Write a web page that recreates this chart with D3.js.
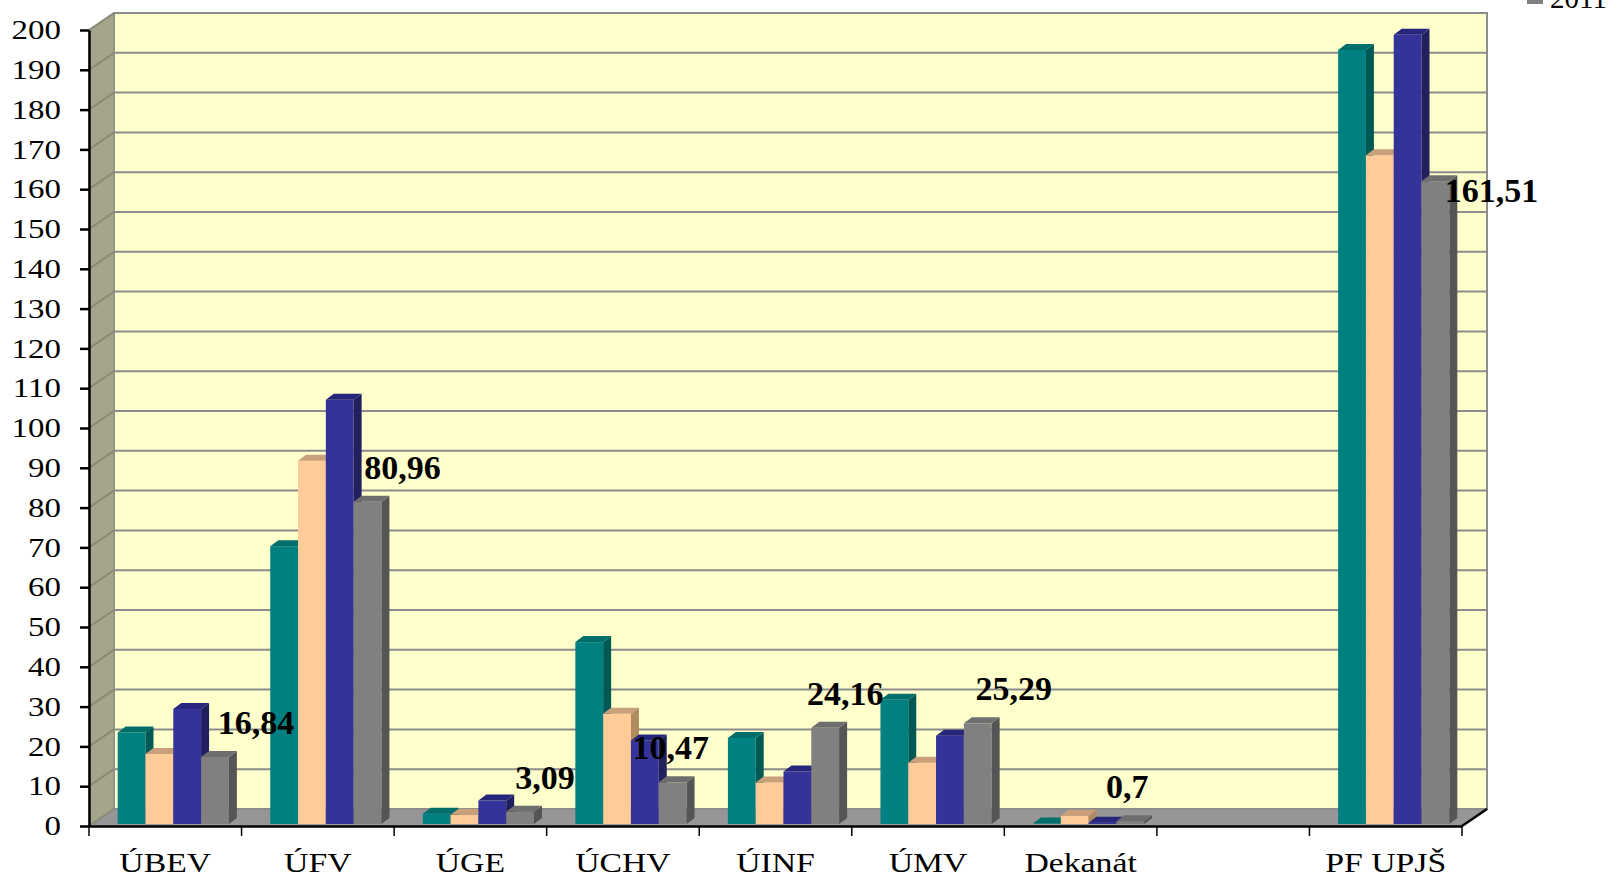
<!DOCTYPE html>
<html lang="sk">
    <head>
        <meta charset="utf-8">
        <title>PF UPJŠ - pracoviská</title>
        <script type="text/javascript" src="https://cdn.jsdelivr.net/npm/d3@7"></script>
        <style type="text/css">
            body {
                margin: 0;
                background: #ffffff;
            }
            svg text {
                font-family: "Times New Roman", "Liberation Serif", serif;
                fill: #000000;
            }
            .axis path,
            .axis line {
                stroke: #000000;
                stroke-width: 2.5;
            }
            .axis text {
                font-size: 27px;
            }
            .value-label {
                font-size: 34px;
                font-weight: bold;
            }
            .legend text {
                font-size: 29px;
            }
        </style>
    </head>

    <body>
        <script type="text/javascript">
            // data
            var categories = ["ÚBEV", "ÚFV", "ÚGE", "ÚCHV", "ÚINF", "ÚMV", "Dekanát", "", "PF UPJŠ"];
            var seriesNames = ["2008", "2009", "2010", "2011"];
            var s2008 = [23.0, 69.8, 2.6, 45.7, 21.6, 31.2, 0.1, null, 194.5];
            var s2009 = [17.6, 91.3, 2.3, 27.7, 10.4, 15.4, 2.1, null, 168.0];
            var s2010 = [28.9, 106.6, 5.9, 21.0, 13.2, 22.2, 0.3, null, 198.3];
            var s2011 = [16.84, 80.96, 3.09, 10.47, 24.16, 25.29, 0.7, null, 161.51];
            var yTicks = d3.range(0, 201, 10);

            var seriesValues = [s2008, s2009, s2010, s2011];

            // layout (not data): where Excel left the 2011 labels
            var labelDx = [41, 35, 25, -2, 20, 36, -3, 0, 56];
            var labelDy = [-23, -23, -23, -23, -23, -23, -23, 0, 21];

            var w = 1619;
            var h = 879;
            var plotLeft = 89, plotRight = 1462, plotBottom = 826, plotTop = 30;
            var depthX = 25, depthY = -17;      // wall depth
            var frontDx = 8, frontDy = -2;      // bars sit a bit behind the front edge
            var barDx = 8, barDy = -6;          // bar depth
            var groupW = 111.2;                 // 4 bars side by side

            var fronts = ["#008080", "#ffcc99", "#333399", "#808080"];
            var tops = ["#006e6b", "#c9a079", "#26267c", "#6e6e6e"];
            var sides = ["#005954", "#b08a60", "#20205f", "#555555"];

            // scales
            var xScale = d3.scaleBand()
                            .domain(categories)
                            .range([plotLeft, plotRight]);

            var xSeries = d3.scaleBand()
                            .domain(seriesNames)
                            .range([0, groupW]);

            var yScale = d3.scaleLinear()
                            .domain([0, 200])
                            .range([plotBottom, plotTop]);

            var svg = d3.select("body")
                            .append("svg")
                            .attr("width", w)
                            .attr("height", h);

            // back wall
            svg.append("rect")
                .attr("x", plotLeft + depthX)
                .attr("y", yScale(200) + depthY)
                .attr("width", plotRight - plotLeft)
                .attr("height", yScale(0) - yScale(200))
                .attr("fill", "#ffffcc")
                .attr("stroke", "#8c8c8c")
                .attr("stroke-width", 2);

            // left side wall
            svg.append("polygon")
                .attr("points", [
                    [plotLeft, yScale(200)],
                    [plotLeft + depthX, yScale(200) + depthY],
                    [plotLeft + depthX, yScale(0) + depthY],
                    [plotLeft, yScale(0)]
                ].join(" "))
                .attr("fill", "#a4a58a")
                .attr("stroke", "#8c8c8c")
                .attr("stroke-width", 1);

            // floor
            svg.append("polygon")
                .attr("points", [
                    [plotLeft, yScale(0)],
                    [plotLeft + depthX, yScale(0) + depthY],
                    [plotRight + depthX, yScale(0) + depthY],
                    [plotRight, yScale(0)]
                ].join(" "))
                .attr("fill", "#969696");

            // gridlines on back wall and left wall
            var grid = svg.append("g").attr("class", "grid");
            grid.selectAll("line.back")
                .data(yTicks)
                .enter()
                .append("line")
                .attr("class", "back")
                .attr("x1", plotLeft + depthX)
                .attr("x2", plotRight + depthX)
                .attr("y1", function(d){ return yScale(d) + depthY; })
                .attr("y2", function(d){ return yScale(d) + depthY; })
                .attr("stroke", "#8c8c8c")
                .attr("stroke-width", 2);
            grid.selectAll("line.side")
                .data(yTicks)
                .enter()
                .append("line")
                .attr("class", "side")
                .attr("x1", plotLeft)
                .attr("x2", plotLeft + depthX)
                .attr("y1", function(d){ return yScale(d); })
                .attr("y2", function(d){ return yScale(d) + depthY; })
                .attr("stroke", "#8a8a78")
                .attr("stroke-width", 2);

            // bars: flatten into one list, drawn left to right
            var bars = [];
            categories.forEach(function(c, i){
                seriesNames.forEach(function(s, j){
                    var v = seriesValues[j][i];
                    if (v !== null) bars.push({cat: c, series: s, j: j, value: v});
                });
            });

            var barG = svg.selectAll("g.bar")
                .data(bars)
                .enter()
                .append("g")
                .attr("class", "bar");

            function bx(d){ return xScale(d.cat) + (xScale.bandwidth() - groupW) / 2 + xSeries(d.series) + frontDx; }
            function by(d){ return yScale(d.value) + frontDy; }
            var baseY = yScale(0) + frontDy;
            var bw = xSeries.bandwidth();

            barG.append("rect")
                .attr("x", bx)
                .attr("y", by)
                .attr("width", bw)
                .attr("height", function(d){ return baseY - by(d); })
                .attr("fill", function(d){ return fronts[d.j]; });

            barG.append("polygon")
                .attr("points", function(d){
                    var x = bx(d) + bw, y = by(d);
                    return [[x, y], [x + barDx, y + barDy], [x + barDx, baseY + barDy], [x, baseY]].join(" ");
                })
                .attr("fill", function(d){ return sides[d.j]; });

            barG.append("polygon")
                .attr("points", function(d){
                    var x = bx(d), y = by(d);
                    return [[x, y], [x + barDx, y + barDy], [x + bw + barDx, y + barDy], [x + bw, y]].join(" ");
                })
                .attr("fill", function(d){ return tops[d.j]; });

            // Y axis
            var yAxis = d3.axisLeft(yScale)
                            .tickValues(yTicks)
                            .tickSize(9)
                            .tickSizeOuter(0)
                            .tickPadding(19);
            svg.append("g")
                .attr("class", "y axis")
                .attr("transform", "translate(" + plotLeft + ",0)")
                .call(yAxis)
                .selectAll("text")
                .attr("font-size", 26)
                .attr("transform", "scale(1.22,1)")
                .attr("x", -28 / 1.22);

            // X axis: labels in band centres, ticks on band edges
            var xAxis = d3.axisBottom(xScale)
                            .tickSize(0)
                            .tickSizeOuter(0)
                            .tickPadding(27);
            var xg = svg.append("g")
                .attr("class", "x axis")
                .attr("transform", "translate(0," + plotBottom + ")")
                .call(xAxis);
            xg.selectAll("text")
                .attr("transform", "scale(1.25,1)");
            xg.selectAll("line.edge")
                .data(categories.map(function(c){ return xScale(c); }).concat([plotRight]))
                .enter()
                .append("line")
                .attr("class", "edge")
                .attr("x1", function(d){ return d; })
                .attr("x2", function(d){ return d; })
                .attr("y1", 0)
                .attr("y2", 10)
                .style("stroke-width", 1.5);

            // right floor edge
            svg.append("line")
                .attr("x1", plotRight)
                .attr("y1", plotBottom)
                .attr("x2", plotRight + depthX)
                .attr("y2", plotBottom + depthY)
                .attr("stroke", "#000")
                .attr("stroke-width", 2.5);

            // 2011 value labels
            svg.selectAll("text.value-label")
                .data(categories.map(function(c, i){ return {cat: c, series: "2011", value: s2011[i], i: i}; })
                    .filter(function(d){ return d.value !== null; }))
                .enter()
                .append("text")
                .attr("class", "value-label")
                .attr("text-anchor", "middle")
                .attr("x", function(d){ return bx(d) + bw / 2 + labelDx[d.i]; })
                .attr("y", function(d){ return by(d) + labelDy[d.i]; })
                .text(function(d){ return String(d.value).replace(".", ","); });

            // legend (mostly above the visible area, as in the original)
            var legend = svg.append("g")
                .attr("class", "legend")
                .attr("transform", "translate(1527,8)");
            var items = legend.selectAll("g")
                .data(seriesNames)
                .enter()
                .append("g")
                .attr("transform", function(d, i){ return "translate(0," + (i - 3) * 34 + ")"; });
            items.append("rect")
                .attr("x", 0)
                .attr("y", -20)
                .attr("width", 16)
                .attr("height", 16)
                .attr("fill", function(d, i){ return fronts[i]; });
            items.append("text")
                .attr("x", 23)
                .attr("y", 0)
                .text(function(d){ return d; });
        </script>
    </body>
</html>
